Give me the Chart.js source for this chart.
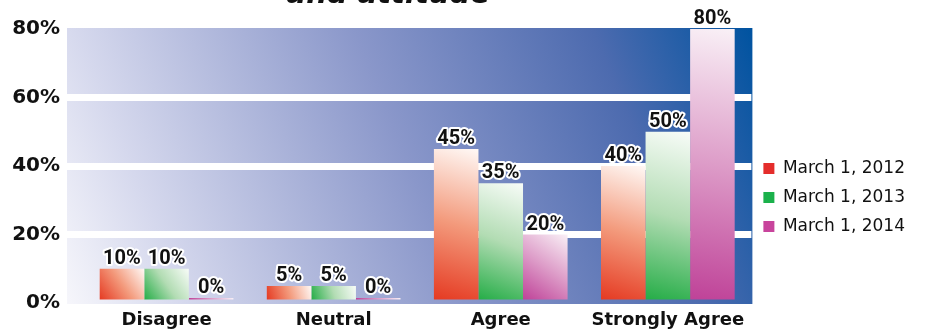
<!DOCTYPE html>
<html>
<head>
<meta charset="utf-8">
<script src="https://cdn.jsdelivr.net/npm/chart.js@4.4.0/dist/chart.umd.min.js"></script>
<style>
  html, body { margin: 0; padding: 0; background: #fff; }
  #wrap { width: 932px; height: 335px; position: relative; overflow: hidden; }
</style>
</head>
<body>
<div id="wrap"><canvas id="survey"></canvas></div>
<script>
// data
const titleText = 'and attitude';
const categories = ['Disagree', 'Neutral', 'Agree', 'Strongly Agree'];
const seriesLabels = ['March 1, 2012', 'March 1, 2013', 'March 1, 2014'];
const values2012 = [10, 5, 45, 40];
const values2013 = [10, 5, 35, 50];
const values2014 = [0, 0, 20, 80];
const yMax = 80;
const yStep = 20;

// legend squares + bar gradients (dark bottom-left -> pale top-right)
const solidColors = ['#e42d2b', '#1bb14b', '#c8449c'];
const barStops = [
  ['#e53a22', '#f39a7c', '#fff9f6'],
  ['#25ad47', '#b2dcb3', '#f8fcf8'],
  ['#bf4298', '#dd9cc8', '#f9f0f6']
];

const panelBg = {
  id: 'panelBg',
  beforeDraw(chart) {
    const { ctx, chartArea: a } = chart;
    const left = a.left - chart.scales.y.options.grid.tickLength;
    const g = ctx.createLinearGradient(left, a.bottom, a.right, a.top);
    g.addColorStop(0, '#f6f6fb');
    g.addColorStop(0.15, '#d5d8ed');
    g.addColorStop(0.5, '#8a97ca');
    g.addColorStop(0.8, '#4d6baf');
    g.addColorStop(1, '#0053a0');
    ctx.save();
    ctx.fillStyle = g;
    ctx.fillRect(left, a.top - 1, a.right + 1 - left, a.bottom - a.top + 2);
    ctx.restore();
  }
};

// each bar gets its own diagonal gradient once positions are known
const barShade = {
  id: 'barShade',
  beforeDatasetsDraw(chart) {
    const { ctx } = chart;
    chart.data.datasets.forEach((ds, di) => {
      const stops = barStops[di];
      chart.getDatasetMeta(di).data.forEach((bar) => {
        const { x, y, base, width } = bar.getProps(['x', 'y', 'base', 'width'], true);
        const l = x - width / 2;
        const g = ctx.createLinearGradient(l, base, l + width, y);
        g.addColorStop(0, stops[0]);
        g.addColorStop(0.5, stops[1]);
        g.addColorStop(1, stops[2]);
        bar.options = Object.assign({}, bar.options, { backgroundColor: g });
      });
    });
  }
};

const valueLabels = {
  id: 'valueLabels',
  afterDatasetsDraw(chart) {
    const { ctx } = chart;
    ctx.save();
    ctx.font = 'bold 20px Roboto';
    ctx.textAlign = 'center';
    ctx.textBaseline = 'alphabetic';
    ctx.lineJoin = 'round';
    chart.data.datasets.forEach((ds, di) => {
      chart.getDatasetMeta(di).data.forEach((bar, i) => {
        const txt = ds.data[i] + '%';
        ctx.lineWidth = 4;
        ctx.strokeStyle = '#fff';
        ctx.strokeText(txt, bar.x, bar.y - 5);
        ctx.fillStyle = '#111';
        ctx.fillText(txt, bar.x, bar.y - 5);
      });
    });
    ctx.restore();
  }
};

// heading sits mostly above the crop, only its lower part shows
const cutTitle = {
  id: 'cutTitle',
  afterDraw(chart) {
    const { ctx, chartArea: a } = chart;
    ctx.save();
    ctx.font = 'italic bold 29px "DejaVu Sans"';
    ctx.textAlign = 'center';
    ctx.textBaseline = 'alphabetic';
    ctx.fillStyle = '#111';
    ctx.fillText(titleText, (a.left + a.right) / 2 - 29, 3);
    ctx.restore();
  }
};

const datasets = [values2012, values2013, values2014].map((vals, i) => ({
  label: seriesLabels[i],
  data: vals,
  backgroundColor: solidColors[i],
  borderWidth: 0,
  minBarLength: 5,
  categoryPercentage: 0.8,
  barPercentage: 1.0
}));

new Chart(document.getElementById('survey').getContext('2d'), {
  type: 'bar',
  data: { labels: categories, datasets },
  options: {
    responsive: true,
    maintainAspectRatio: false,
    animation: false,
    layout: { padding: { top: 29, right: 17, bottom: 0, left: 0 } },
    plugins: {
      tooltip: { enabled: false },
      legend: {
        position: 'right',
        align: 'start',
        title: { display: true, text: '', font: { size: 10 }, padding: { top: 107, bottom: 0 } },
        labels: {
          boxWidth: 11,
          boxHeight: 11,
          padding: 12,
          color: '#111',
          font: { family: '"DejaVu Sans"', size: 17 }
        }
      }
    },
    scales: {
      x: {
        grid: { display: false, drawTicks: false },
        border: { display: false },
        ticks: {
          padding: 7,
          color: '#111',
          font: { family: '"DejaVu Sans"', size: 18, weight: 'bold' }
        },
        afterFit: (s) => { s.height = 32; }
      },
      y: {
        min: 0,
        max: yMax,
        border: { display: false },
        grid: {
          color: (c) => (c.tick && c.tick.value > 0 && c.tick.value < yMax) ? '#ffffff' : 'rgba(0,0,0,0)',
          lineWidth: 7,
          tickLength: 16
        },
        ticks: {
          stepSize: yStep,
          padding: 7,
          color: '#111',
          font: { family: '"DejaVu Sans"', size: 20, weight: 'bold' },
          callback: (v) => v + '%'
        },
        afterFit: (s) => { s.width = 83; }
      }
    }
  },
  plugins: [panelBg, barShade, valueLabels, cutTitle]
});
</script>
</body>
</html>
